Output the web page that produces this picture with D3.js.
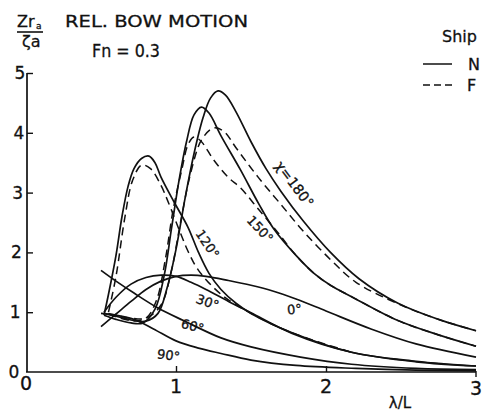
<!DOCTYPE html>
<html>
<head>
<meta charset="utf-8">
<script src="https://cdn.jsdelivr.net/npm/d3@7"></script>
<style>
  html, body { margin: 0; padding: 0; background: #fff; }
  svg text { font-family: "DejaVu Sans", "Liberation Sans", sans-serif; fill: #111; stroke: #111; stroke-width: 0.3px; }
</style>
</head>
<body>
<svg id="chart" width="482" height="412"></svg>
<script>
// Relative bow motion amplitude vs. wave length ratio, Fn = 0.3
// Heading angles chi (deg); ship N = solid, ship F = dashed
const xTicks = [0, 1, 2, 3];
const yTicks = [0, 1, 2, 3, 4, 5];

const chi180N = [[0.52,0.98],[0.62,0.92],[0.72,0.86],[0.8,0.85],[0.88,0.98],[0.94,1.4],[1.0,2.05],[1.06,2.9],[1.12,3.65],[1.18,4.25],[1.23,4.58],[1.28,4.7],[1.33,4.63],[1.4,4.35],[1.5,3.85],[1.6,3.4],[1.7,3.02],[1.85,2.52],[2.03,2.0],[2.22,1.56],[2.48,1.15],[2.75,0.88],[3.0,0.69]];
const chi180F = [[0.55,0.98],[0.7,0.9],[0.8,0.9],[0.9,1.12],[0.97,1.7],[1.03,2.5],[1.1,3.35],[1.17,3.88],[1.25,4.08],[1.32,4.02],[1.4,3.75],[1.55,3.25],[1.7,2.8],[1.85,2.35],[2.03,1.88],[2.2,1.5],[2.5,1.12],[2.75,0.88],[3.0,0.69]];
const chi150N = [[0.52,0.95],[0.6,0.88],[0.7,0.82],[0.78,0.82],[0.86,1.05],[0.92,1.6],[0.97,2.4],[1.02,3.2],[1.07,3.85],[1.12,4.3],[1.17,4.43],[1.22,4.33],[1.3,3.95],[1.43,3.38],[1.55,2.82],[1.65,2.4],[1.8,1.95],[1.92,1.65],[2.03,1.45],[2.17,1.26],[2.48,0.86],[2.75,0.62],[3.0,0.43]];
const chi150F = [[0.55,0.97],[0.7,0.86],[0.8,0.9],[0.87,1.2],[0.93,1.9],[0.98,2.7],[1.04,3.4],[1.08,3.8],[1.12,3.93],[1.17,3.85],[1.25,3.55],[1.35,3.25],[1.43,3.08],[1.55,2.72],[1.68,2.33],[1.8,1.95],[1.92,1.65],[2.03,1.45],[2.17,1.26],[2.48,0.86],[2.75,0.62],[3.0,0.43]];
const chi120N = [[0.52,0.95],[0.55,1.3],[0.6,1.95],[0.64,2.6],[0.68,3.1],[0.72,3.4],[0.77,3.57],[0.82,3.61],[0.86,3.5],[0.9,3.26],[0.99,2.83],[1.08,2.42],[1.15,2.0],[1.22,1.65],[1.3,1.38],[1.4,1.15],[1.5,0.98],[1.77,0.66],[2.17,0.33],[2.6,0.18],[3.0,0.1]];
const chi120F = [[0.55,1.0],[0.6,1.6],[0.66,2.6],[0.71,3.2],[0.77,3.46],[0.83,3.4],[0.9,3.12],[0.95,2.83],[1.03,2.32],[1.08,2.02],[1.15,1.7],[1.3,1.3],[1.5,0.98],[1.77,0.66],[2.17,0.33]];
const chi90N  = [[0.5,0.98],[0.6,0.95],[0.72,0.88],[0.85,0.72],[1.0,0.52],[1.15,0.4],[1.3,0.31],[1.5,0.2],[1.8,0.11],[2.2,0.06],[2.6,0.03],[3.0,0.02]];
const chi60N  = [[0.5,1.7],[0.6,1.52],[0.72,1.32],[0.88,1.07],[1.05,0.86],[1.3,0.57],[1.5,0.42],[1.83,0.25],[2.17,0.13],[2.6,0.06],[3.0,0.04]];
const chi30N  = [[0.52,1.0],[0.6,1.25],[0.7,1.47],[0.8,1.58],[0.9,1.62],[1.0,1.6],[1.1,1.5],[1.2,1.38],[1.35,1.18],[1.5,0.99],[1.77,0.65],[2.17,0.33],[2.6,0.17],[3.0,0.1]];
const chi0N   = [[0.5,0.76],[0.6,0.97],[0.7,1.18],[0.8,1.38],[0.9,1.52],[1.0,1.6],[1.1,1.62],[1.2,1.6],[1.35,1.53],[1.5,1.45],[1.65,1.35],[1.8,1.22],[2.0,1.02],[2.3,0.72],[2.6,0.47],[3.0,0.25]];

const solidSeries = [chi180N, chi150N, chi120N, chi90N, chi60N, chi30N, chi0N];
const dashedSeries = [chi180F, chi150F, chi120F];

// curve labels: text, data position of centre, rotation, size
const curveLabels = [
  { text: "χ=180°", x: 1.79, y: 3.14, rot: 53, size: 14 },
  { text: "150°",   x: 1.56, y: 2.39, rot: 47, size: 13 },
  { text: "120°",   x: 1.21, y: 2.14, rot: 56, size: 13 },
  { text: "30°",    x: 1.21, y: 1.17, rot: 20, size: 13 },
  { text: "60°",    x: 1.11, y: 0.77, rot: 15, size: 13 },
  { text: "90°",    x: 0.95, y: 0.28, rot: 8,  size: 13 },
  { text: "0°",     x: 1.79, y: 1.05, rot: -5, size: 13 }
];

const svg = d3.select("#chart");
const x = d3.scaleLinear().domain([0, 3]).range([26, 476]);
const y = d3.scaleLinear().domain([0, 5]).range([372, 73]);

const ink = "#111";

// x axis: ticks rise from the baseline
const gx = svg.append("g").attr("transform", `translate(0,${y(0)})`)
  .call(d3.axisTop(x).tickValues([1, 2]).tickSize(6).tickFormat(""));
gx.select(".domain").remove();
gx.selectAll("line").attr("stroke", ink).attr("stroke-width", 1.4);
svg.append("line").attr("x1", x(0)).attr("x2", x(3)).attr("y1", y(0)).attr("y2", y(0))
  .attr("stroke", ink).attr("stroke-width", 1.7);
svg.append("line").attr("x1", x(3)).attr("x2", x(3)).attr("y1", y(0) - 1).attr("y2", y(0) + 5)
  .attr("stroke", ink).attr("stroke-width", 1.4);

// y axis: ticks point into the plot
const gy = svg.append("g").attr("transform", `translate(${x(0) + 1},0)`)
  .call(d3.axisRight(y).tickValues([1, 2, 3, 4, 5]).tickSize(6).tickFormat(""));
gy.select(".domain").remove();
gy.selectAll("line").attr("stroke", ink).attr("stroke-width", 1.4);
svg.append("line").attr("x1", x(0) + 1).attr("x2", x(0) + 1).attr("y1", y(5)).attr("y2", y(0))
  .attr("stroke", ink).attr("stroke-width", 1.7);

svg.selectAll("text.xt").data(xTicks).enter().append("text")
  .attr("class", "xt").attr("x", d => x(d)).attr("y", d => d === 0 ? 390 : (d === 3 ? 395 : 393))
  .attr("text-anchor", "middle").attr("font-size", 19).text(d => d);

svg.selectAll("text.yt").data(yTicks).enter().append("text")
  .attr("class", "yt").attr("x", d => 20 - (5 - d) * 1.2).attr("y", d => y(d) + 6)
  .attr("text-anchor", "middle").attr("font-size", 17).text(d => d);

svg.append("text").attr("x", 400).attr("y", 408).attr("text-anchor", "middle")
  .attr("font-size", 15).text("λ/L");

// curves
const line = d3.line().x(d => x(d[0])).y(d => y(d[1])).curve(d3.curveCatmullRom.alpha(0.5));
svg.selectAll("path.n").data(solidSeries).enter().append("path")
  .attr("class", "n").attr("d", line).attr("fill", "none")
  .attr("stroke", ink).attr("stroke-width", 1.7);
svg.selectAll("path.f").data(dashedSeries).enter().append("path")
  .attr("class", "f").attr("d", line).attr("fill", "none")
  .attr("stroke", ink).attr("stroke-width", 1.5).attr("stroke-dasharray", "8,5");

// curve labels
svg.selectAll("text.cl").data(curveLabels).enter().append("text")
  .attr("class", "cl").attr("font-size", d => d.size).attr("text-anchor", "middle")
  .attr("dy", "0.35em")
  .attr("transform", d => `translate(${x(d.x)},${y(d.y)}) rotate(${d.rot})`)
  .text(d => d.text);

// title block
svg.append("text").attr("x", 17).attr("y", 27).attr("font-size", 16).text("Zr");
svg.append("text").attr("x", 36).attr("y", 29).attr("font-size", 9).text("a");
svg.append("line").attr("x1", 17).attr("x2", 43).attr("y1", 32).attr("y2", 32)
  .attr("stroke", ink).attr("stroke-width", 1.6);
svg.append("text").attr("x", 22).attr("y", 47).attr("font-size", 16).text("ζa");
svg.append("text").attr("x", 65).attr("y", 27).attr("font-size", 16.5)
  .attr("textLength", 183).attr("lengthAdjust", "spacingAndGlyphs").text("REL. BOW MOTION");
svg.append("text").attr("x", 92).attr("y", 57).attr("font-size", 17)
  .attr("textLength", 68).attr("lengthAdjust", "spacingAndGlyphs").text("Fn = 0.3");

// legend
svg.append("text").attr("x", 442).attr("y", 42).attr("font-size", 16).text("Ship");
svg.append("line").attr("x1", 423).attr("x2", 452).attr("y1", 64).attr("y2", 64)
  .attr("stroke", ink).attr("stroke-width", 1.5);
svg.append("text").attr("x", 468).attr("y", 70).attr("font-size", 16).text("N");
svg.append("line").attr("x1", 423).attr("x2", 452).attr("y1", 85).attr("y2", 85)
  .attr("stroke", ink).attr("stroke-width", 1.5).attr("stroke-dasharray", "7,4");
svg.append("text").attr("x", 467).attr("y", 91).attr("font-size", 16).text("F");
</script>
</body>
</html>
